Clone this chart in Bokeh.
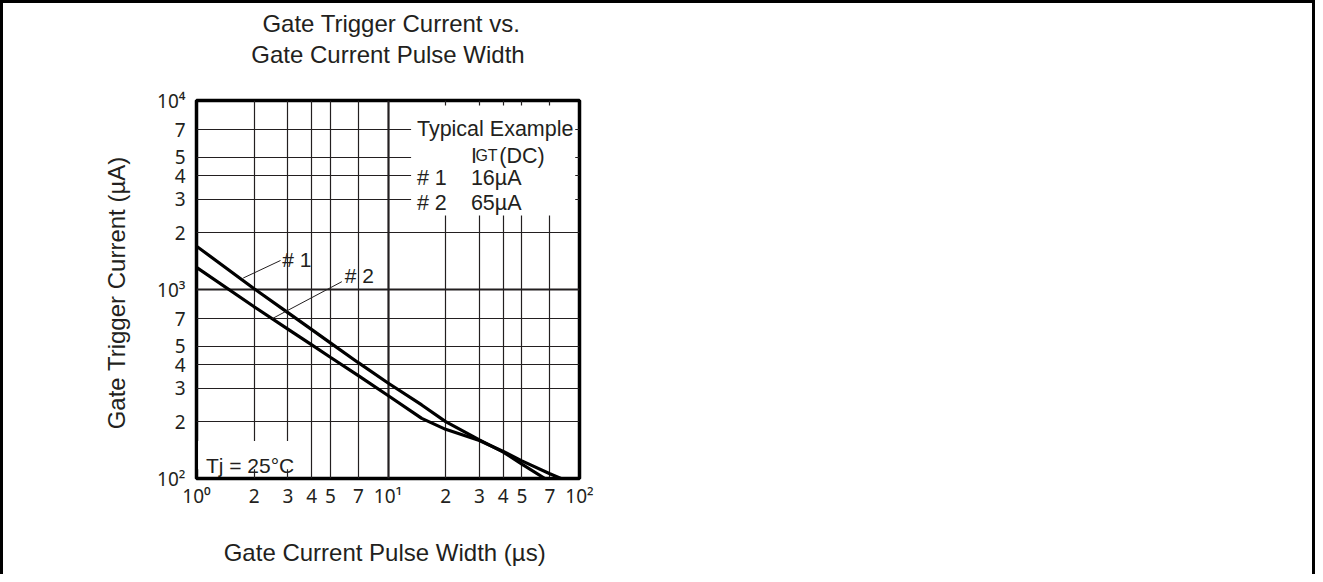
from bokeh.plotting import figure
from bokeh.models import FixedTicker, Grid, BoxAnnotation, Label, Arrow, LogAxis
from bokeh.embed import file_html
from bokeh.resources import INLINE

# ---- data ----
pulse_width_1 = [1, 2, 3, 4, 5, 7, 10, 15, 20, 30, 40, 50, 66, 100]
igt_1 = [1695, 1010, 754, 613, 522, 410, 320, 245, 200, 160, 138, 119, 100, 100]

pulse_width_2 = [1, 2, 3, 4, 5, 7, 10, 15, 20, 30, 40, 50, 70, 80, 100]
igt_2 = [1310, 810, 617, 509, 438, 350, 275, 208, 182, 159, 139, 124, 106, 100, 100]

x_ticks = [1, 2, 3, 4, 5, 7, 10, 20, 30, 40, 50, 70, 100]
x_tick_labels = ["10⁰", "2", "3", "4", "5", "7", "10¹", "2", "3", "4", "5", "7", "10²"]
y_ticks = [100, 200, 300, 400, 500, 700, 1000, 2000, 3000, 4000, 5000, 7000, 10000]
y_tick_labels = ["10²", "2", "3", "4", "5", "7", "10³", "2", "3", "4", "5", "7", "10⁴"]

x_minor_grid = [2, 3, 4, 5, 7, 20, 30, 40, 50, 70]
y_minor_grid = [200, 300, 400, 500, 700, 2000, 3000, 4000, 5000, 7000]

# (a no-break space pads the shorter first line so both lines look centred)
title_lines = ["\u00a0Gate Trigger Current vs.", "Gate Current Pulse Width"]
legend_rows = ["# 1", "# 2"]
legend_dc = ["16µA", "65µA"]

FONT = "Liberation Sans"
TICK_FONT = "Noto Sans"
INK = "#231f20"

p = figure(width=1309, height=571,
           x_axis_type="log", y_axis_type="log",
           x_range=(1, 100), y_range=(100, 10000),
           output_backend="svg", toolbar_location=None,
           min_border_left=193, min_border_right=739,
           min_border_top=97, min_border_bottom=99,
           background_fill_color="white", border_fill_color="white")

p.styles = {"box-sizing": "content-box",
            "border-left": "3px solid black", "border-top": "3px solid black",
            "border-right": "3px solid black"}

# chart title: carried by a tick-less axis above the frame, so that its
# distance from the frame can be set exactly
title_axis = LogAxis(ticker=FixedTicker(ticks=[]),
                     axis_label="\n".join(title_lines),
                     axis_label_text_font=FONT, axis_label_text_font_size="24px",
                     axis_label_text_font_style="normal", axis_label_text_color=INK,
                     axis_label_text_line_height=1.125,
                     axis_label_standoff=33, major_label_standoff=0,
                     major_tick_out=0, major_tick_in=0,
                     major_tick_line_color=None, minor_tick_line_color=None,
                     axis_line_color=None, major_label_text_font_size="0px")
p.add_layout(title_axis, "above")

# grids
p.xgrid.ticker = FixedTicker(ticks=x_minor_grid)
p.ygrid.ticker = FixedTicker(ticks=y_minor_grid)
for g in (p.xgrid, p.ygrid):
    g.grid_line_color = INK
    g.grid_line_width = 1.2
    g.grid_line_alpha = 1.0
p.add_layout(Grid(dimension=0, ticker=FixedTicker(ticks=[10]),
                  grid_line_color=INK, grid_line_width=2.2))
p.add_layout(Grid(dimension=1, ticker=FixedTicker(ticks=[1000]),
                  grid_line_color=INK, grid_line_width=2.2))

# axes
for ax, ticks, labels in ((p.below[0], x_ticks, x_tick_labels),
                          (p.left[0], y_ticks, y_tick_labels)):
    ax.ticker = FixedTicker(ticks=ticks)
    ax.major_label_overrides = {t: l for t, l in zip(ticks, labels)}
    ax.major_tick_line_color = None
    ax.minor_tick_line_color = None
    ax.axis_line_color = None
    ax.major_label_text_font = TICK_FONT
    ax.major_label_text_font_size = "19px"
    ax.major_label_text_color = INK
    ax.axis_label_text_font = FONT
    ax.axis_label_text_font_size = "24px"
    ax.axis_label_text_font_style = "normal"
    ax.axis_label_text_color = INK

xa, ya = p.below[0], p.left[0]
xa.major_label_standoff = -2
xa.axis_label = "Gate Current Pulse Width  (µs)"
xa.axis_label_standoff = 27
ya.major_label_standoff = 5
ya.axis_label = "Gate Trigger Current  (µA)"
ya.axis_label_standoff = 24

p.outline_line_color = "black"
p.outline_line_width = 3.5

# white boxes behind legend text and Tj label
p.add_layout(BoxAnnotation(left=13.2, right=95, bottom=2466, top=9400,
                           fill_color="white", fill_alpha=1, line_color=None))
p.add_layout(BoxAnnotation(left=1.02, right=3.4, bottom=112, top=158,
                           fill_color="white", fill_alpha=1, line_color=None))

# curves
p.line(pulse_width_1, igt_1, line_color="black", line_width=3.2)
p.line(pulse_width_2, igt_2, line_color="black", line_width=3.2)

# leader lines and curve labels
p.add_layout(Arrow(end=None, x_start=1.754, y_start=1150, x_end=2.746, y_end=1424,
                   line_color=INK, line_width=1))
p.add_layout(Arrow(end=None, x_start=2.478, y_start=700, x_end=5.74, y_end=1100,
                   line_color=INK, line_width=1))

lab = dict(text_font=FONT, text_color=INK, text_baseline="middle")
p.add_layout(Label(x=2.80, y=1437, text=legend_rows[0], text_font_size="21px", **lab))
p.add_layout(Label(x=5.95, y=1188, text=legend_rows[1], text_font_size="21px", **lab))

# typical example block
tb = dict(text_font=FONT, text_color=INK, text_baseline="alphabetic")
p.add_layout(Label(x=14.16, y=7090, text="Typical Example", text_font_size="21.5px", **tb))
p.add_layout(Label(x=27.1, y=5089, text="I", text_font_size="21.5px", **tb))
p.add_layout(Label(x=28.6, y=5089, text="GT", text_font_size="16px", **tb))
p.add_layout(Label(x=38.1, y=5089, text="(DC)", text_font_size="21.5px", **tb))
p.add_layout(Label(x=14.16, y=3886, text=legend_rows[0], text_font_size="21.5px", **tb))
p.add_layout(Label(x=27.1, y=3886, text=legend_dc[0], text_font_size="21.5px", **tb))
p.add_layout(Label(x=14.16, y=2858, text=legend_rows[1], text_font_size="21.5px", **tb))
p.add_layout(Label(x=27.1, y=2858, text=legend_dc[1], text_font_size="21.5px", **tb))

p.add_layout(Label(x=1.12, y=117.3, text="Tj = 25°C", text_font_size="21px", **tb))

open("out.html", "w").write(file_html(p, INLINE))
